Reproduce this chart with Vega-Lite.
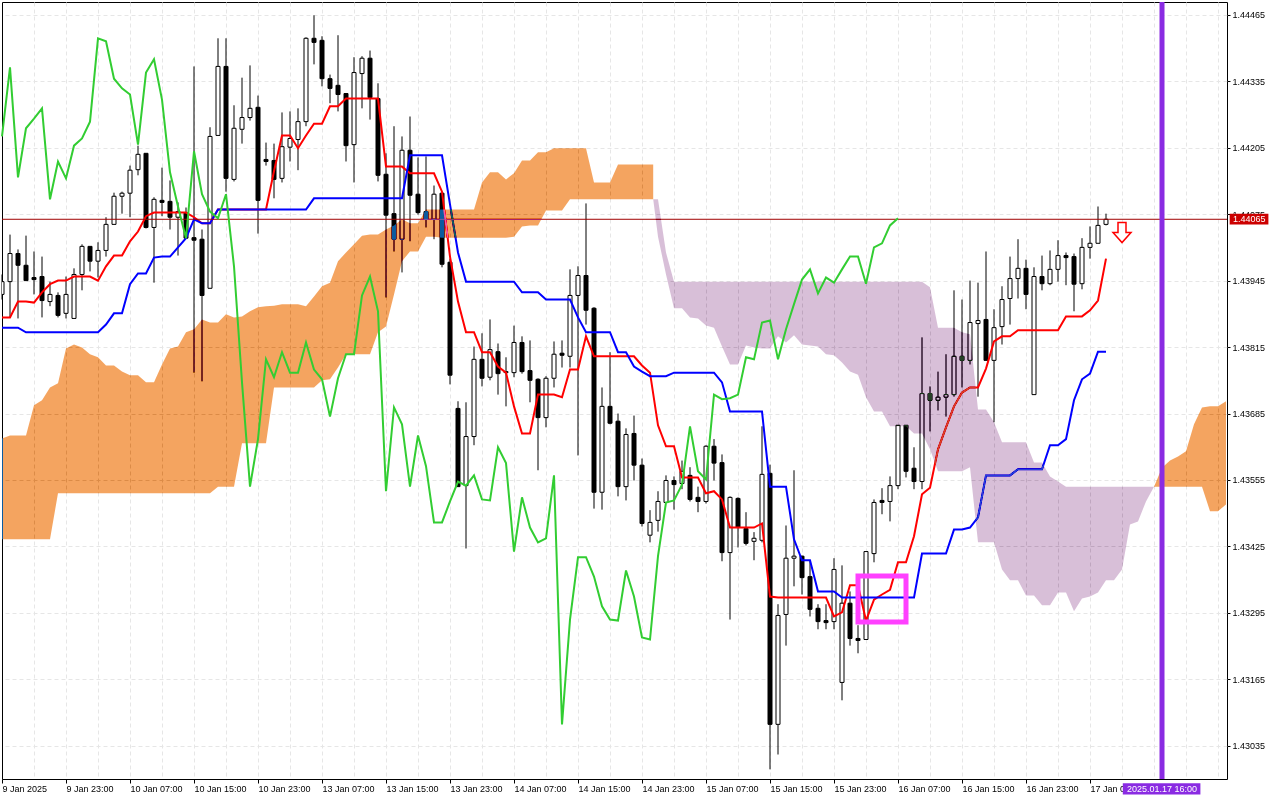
{
  "$schema": "https://vega.github.io/schema/vega-lite/v6.json",
  "width": 1225,
  "height": 777,
  "autosize": "none",
  "padding": {"left": 2, "top": 2, "right": 53, "bottom": 21},
  "background": "white",
  "config": {
    "view": {"stroke": "black", "strokeWidth": 1},
    "axis": {"labelFont": "Liberation Sans", "labelFontSize": 9, "labelColor": "black", "tickColor": "black", "domain": false, "title": null}
  },
  "datasets": {
    "bars": [
      {"i":0,"open":1.43918,"high":1.43957,"low":1.43908,"close":1.43943,"tenkan":1.43873,"kijun":1.43853,"chikou":1.44227},
      {"i":1,"open":1.43943,"high":1.44035,"low":1.43873,"close":1.43998,"tenkan":1.43873,"kijun":1.43853,"chikou":1.44362},
      {"i":2,"open":1.43998,"high":1.44006,"low":1.43871,"close":1.43975,"tenkan":1.43904,"kijun":1.43853,"chikou":1.44147},
      {"i":3,"open":1.43975,"high":1.44033,"low":1.43945,"close":1.43945,"tenkan":1.43904,"kijun":1.43844,"chikou":1.44243},
      {"i":4,"open":1.43951,"high":1.44002,"low":1.43918,"close":1.43947,"tenkan":1.43902,"kijun":1.43844,"chikou":1.44262},
      {"i":5,"open":1.43953,"high":1.43992,"low":1.43873,"close":1.43906,"tenkan":1.43922,"kijun":1.43844,"chikou":1.44282},
      {"i":6,"open":1.43904,"high":1.43943,"low":1.43895,"close":1.43918,"tenkan":1.43938,"kijun":1.43844,"chikou":1.44104},
      {"i":7,"open":1.43916,"high":1.43922,"low":1.43873,"close":1.43877,"tenkan":1.43945,"kijun":1.43844,"chikou":1.44178},
      {"i":8,"open":1.43881,"high":1.43953,"low":1.43871,"close":1.43918,"tenkan":1.43945,"kijun":1.43844,"chikou":1.44145},
      {"i":9,"open":1.43871,"high":1.43969,"low":1.43871,"close":1.43957,"tenkan":1.43953,"kijun":1.43844,"chikou":1.44209},
      {"i":10,"open":1.43957,"high":1.44016,"low":1.43926,"close":1.44012,"tenkan":1.43953,"kijun":1.43844,"chikou":1.44223},
      {"i":11,"open":1.44012,"high":1.44012,"low":1.43963,"close":1.43983,"tenkan":1.43953,"kijun":1.43844,"chikou":1.44256},
      {"i":12,"open":1.43983,"high":1.4402,"low":1.43951,"close":1.44004,"tenkan":1.43945,"kijun":1.43844,"chikou":1.44419},
      {"i":13,"open":1.44004,"high":1.44069,"low":1.43992,"close":1.44055,"tenkan":1.43973,"kijun":1.43859,"chikou":1.44413},
      {"i":14,"open":1.44055,"high":1.44117,"low":1.44055,"close":1.4411,"tenkan":1.43994,"kijun":1.43881,"chikou":1.4434},
      {"i":15,"open":1.4411,"high":1.44119,"low":1.44076,"close":1.44116,"tenkan":1.43994,"kijun":1.43881,"chikou":1.44321},
      {"i":16,"open":1.44116,"high":1.4417,"low":1.44069,"close":1.44161,"tenkan":1.44022,"kijun":1.43938,"chikou":1.44309},
      {"i":17,"open":1.44162,"high":1.44209,"low":1.44151,"close":1.44192,"tenkan":1.44041,"kijun":1.43959,"chikou":1.44211},
      {"i":18,"open":1.44194,"high":1.44194,"low":1.44047,"close":1.44049,"tenkan":1.44071,"kijun":1.43959,"chikou":1.44352},
      {"i":19,"open":1.44049,"high":1.44108,"low":1.43941,"close":1.44104,"tenkan":1.44078,"kijun":1.4399,"chikou":1.44378},
      {"i":20,"open":1.44102,"high":1.44166,"low":1.44071,"close":1.44098,"tenkan":1.44078,"kijun":1.43992,"chikou":1.44299},
      {"i":21,"open":1.441,"high":1.44141,"low":1.44045,"close":1.44069,"tenkan":1.44078,"kijun":1.43992,"chikou":1.44157},
      {"i":22,"open":1.44069,"high":1.44098,"low":1.43994,"close":1.4408,"tenkan":1.44078,"kijun":1.4401,"chikou":1.4409},
      {"i":23,"open":1.44078,"high":1.44088,"low":1.44028,"close":1.44028,"tenkan":1.44078,"kijun":1.44028,"chikou":1.44028},
      {"i":24,"open":1.44029,"high":1.44364,"low":1.43765,"close":1.44024,"tenkan":1.44069,"kijun":1.44065,"chikou":1.44198},
      {"i":25,"open":1.44026,"high":1.44045,"low":1.43748,"close":1.43916,"tenkan":1.44057,"kijun":1.44057,"chikou":1.44114},
      {"i":26,"open":1.4393,"high":1.44245,"low":1.4393,"close":1.44227,"tenkan":1.44057,"kijun":1.44057,"chikou":1.4408},
      {"i":27,"open":1.44229,"high":1.44419,"low":1.44229,"close":1.44364,"tenkan":1.44084,"kijun":1.44084,"chikou":1.44067},
      {"i":28,"open":1.44364,"high":1.44419,"low":1.44119,"close":1.44145,"tenkan":1.44084,"kijun":1.44084,"chikou":1.44114},
      {"i":29,"open":1.44143,"high":1.44288,"low":1.44139,"close":1.44243,"tenkan":1.44084,"kijun":1.44084,"chikou":1.43973},
      {"i":30,"open":1.44241,"high":1.44342,"low":1.44213,"close":1.44264,"tenkan":1.44084,"kijun":1.44084,"chikou":1.43746},
      {"i":31,"open":1.44264,"high":1.44366,"low":1.44258,"close":1.44282,"tenkan":1.44084,"kijun":1.44084,"chikou":1.43542},
      {"i":32,"open":1.44284,"high":1.44307,"low":1.44037,"close":1.44102,"tenkan":1.44084,"kijun":1.44084,"chikou":1.43635},
      {"i":33,"open":1.44182,"high":1.44215,"low":1.4417,"close":1.44178,"tenkan":1.44084,"kijun":1.44084,"chikou":1.43791},
      {"i":34,"open":1.4418,"high":1.44213,"low":1.44106,"close":1.44143,"tenkan":1.44159,"kijun":1.44084,"chikou":1.43756},
      {"i":35,"open":1.44145,"high":1.44274,"low":1.44137,"close":1.44207,"tenkan":1.44229,"kijun":1.44084,"chikou":1.43805},
      {"i":36,"open":1.44206,"high":1.44276,"low":1.44178,"close":1.44223,"tenkan":1.44229,"kijun":1.44084,"chikou":1.43765},
      {"i":37,"open":1.44221,"high":1.44282,"low":1.44161,"close":1.44256,"tenkan":1.44204,"kijun":1.44084,"chikou":1.43765},
      {"i":38,"open":1.44256,"high":1.44421,"low":1.44247,"close":1.44419,"tenkan":1.44229,"kijun":1.44084,"chikou":1.43824},
      {"i":39,"open":1.44419,"high":1.44464,"low":1.44368,"close":1.44411,"tenkan":1.44252,"kijun":1.44106,"chikou":1.43771},
      {"i":40,"open":1.44415,"high":1.44423,"low":1.44325,"close":1.4434,"tenkan":1.44252,"kijun":1.44106,"chikou":1.43752},
      {"i":41,"open":1.4434,"high":1.44348,"low":1.44292,"close":1.44321,"tenkan":1.44286,"kijun":1.44106,"chikou":1.43679},
      {"i":42,"open":1.44327,"high":1.44425,"low":1.44276,"close":1.44309,"tenkan":1.44286,"kijun":1.44106,"chikou":1.43754},
      {"i":43,"open":1.44311,"high":1.44311,"low":1.44178,"close":1.44209,"tenkan":1.44301,"kijun":1.44106,"chikou":1.43801},
      {"i":44,"open":1.44211,"high":1.44382,"low":1.44137,"close":1.44352,"tenkan":1.44301,"kijun":1.44106,"chikou":1.43801},
      {"i":45,"open":1.4435,"high":1.44384,"low":1.44282,"close":1.4438,"tenkan":1.44301,"kijun":1.44106,"chikou":1.43916},
      {"i":46,"open":1.4438,"high":1.44395,"low":1.4426,"close":1.44303,"tenkan":1.44301,"kijun":1.44106,"chikou":1.43953},
      {"i":47,"open":1.44301,"high":1.44331,"low":1.44139,"close":1.44151,"tenkan":1.44301,"kijun":1.44106,"chikou":1.43885},
      {"i":48,"open":1.44153,"high":1.44194,"low":1.43912,"close":1.44073,"tenkan":1.44168,"kijun":1.44106,"chikou":1.43533},
      {"i":49,"open":1.44076,"high":1.44247,"low":1.44002,"close":1.44026,"tenkan":1.44168,"kijun":1.44106,"chikou":1.43697},
      {"i":50,"open":1.44026,"high":1.44227,"low":1.43961,"close":1.442,"tenkan":1.44168,"kijun":1.44106,"chikou":1.43664},
      {"i":51,"open":1.442,"high":1.44266,"low":1.44022,"close":1.44112,"tenkan":1.44155,"kijun":1.4419,"chikou":1.43542},
      {"i":52,"open":1.44114,"high":1.44186,"low":1.44074,"close":1.44078,"tenkan":1.44155,"kijun":1.4419,"chikou":1.43642},
      {"i":53,"open":1.4408,"high":1.44188,"low":1.44049,"close":1.44065,"tenkan":1.44155,"kijun":1.4419,"chikou":1.43582},
      {"i":54,"open":1.44065,"high":1.44131,"low":1.44026,"close":1.44114,"tenkan":1.44155,"kijun":1.4419,"chikou":1.43472},
      {"i":55,"open":1.44116,"high":1.44116,"low":1.43971,"close":1.43977,"tenkan":1.44119,"kijun":1.4419,"chikou":1.43472},
      {"i":56,"open":1.43981,"high":1.43988,"low":1.43742,"close":1.4376,"tenkan":1.43992,"kijun":1.44094,"chikou":1.43513},
      {"i":57,"open":1.43695,"high":1.43709,"low":1.43542,"close":1.43542,"tenkan":1.43904,"kijun":1.44,"chikou":1.43552},
      {"i":58,"open":1.43544,"high":1.43707,"low":1.43421,"close":1.4364,"tenkan":1.43844,"kijun":1.43943,"chikou":1.43544},
      {"i":59,"open":1.4364,"high":1.43816,"low":1.43623,"close":1.43791,"tenkan":1.43844,"kijun":1.43943,"chikou":1.43564},
      {"i":60,"open":1.43791,"high":1.43842,"low":1.43738,"close":1.43754,"tenkan":1.43805,"kijun":1.43943,"chikou":1.43517},
      {"i":61,"open":1.43756,"high":1.43869,"low":1.4375,"close":1.4381,"tenkan":1.43805,"kijun":1.43943,"chikou":1.43515},
      {"i":62,"open":1.43806,"high":1.43822,"low":1.43722,"close":1.43763,"tenkan":1.43777,"kijun":1.43943,"chikou":1.43619},
      {"i":63,"open":1.43765,"high":1.43795,"low":1.43699,"close":1.43767,"tenkan":1.43765,"kijun":1.43943,"chikou":1.43588},
      {"i":64,"open":1.43765,"high":1.43857,"low":1.43756,"close":1.43824,"tenkan":1.43699,"kijun":1.43943,"chikou":1.43415},
      {"i":65,"open":1.43824,"high":1.43836,"low":1.43763,"close":1.43767,"tenkan":1.43646,"kijun":1.43922,"chikou":1.43521},
      {"i":66,"open":1.43769,"high":1.43828,"low":1.43707,"close":1.4375,"tenkan":1.43646,"kijun":1.43922,"chikou":1.43462},
      {"i":67,"open":1.43752,"high":1.43754,"low":1.43574,"close":1.43677,"tenkan":1.43722,"kijun":1.43922,"chikou":1.43433},
      {"i":68,"open":1.43677,"high":1.43758,"low":1.43658,"close":1.43754,"tenkan":1.43722,"kijun":1.43908,"chikou":1.43441},
      {"i":69,"open":1.43754,"high":1.43826,"low":1.43736,"close":1.43801,"tenkan":1.43722,"kijun":1.43908,"chikou":1.43564},
      {"i":70,"open":1.43803,"high":1.43828,"low":1.43775,"close":1.43799,"tenkan":1.43717,"kijun":1.43908,"chikou":1.43077},
      {"i":71,"open":1.43797,"high":1.43967,"low":1.43775,"close":1.43916,"tenkan":1.43771,"kijun":1.43908,"chikou":1.43282},
      {"i":72,"open":1.43916,"high":1.43973,"low":1.43603,"close":1.43955,"tenkan":1.43771,"kijun":1.43873,"chikou":1.43404},
      {"i":73,"open":1.43955,"high":1.44096,"low":1.43859,"close":1.43887,"tenkan":1.43836,"kijun":1.43844,"chikou":1.43404},
      {"i":74,"open":1.43891,"high":1.43893,"low":1.43499,"close":1.43531,"tenkan":1.43797,"kijun":1.43844,"chikou":1.43366},
      {"i":75,"open":1.43531,"high":1.43736,"low":1.43497,"close":1.43699,"tenkan":1.43797,"kijun":1.43844,"chikou":1.43308},
      {"i":76,"open":1.43699,"high":1.43805,"low":1.43664,"close":1.43666,"tenkan":1.43797,"kijun":1.43844,"chikou":1.43282},
      {"i":77,"open":1.4367,"high":1.43685,"low":1.43523,"close":1.43542,"tenkan":1.43797,"kijun":1.43805,"chikou":1.4328},
      {"i":78,"open":1.43542,"high":1.43656,"low":1.43515,"close":1.43644,"tenkan":1.43797,"kijun":1.43805,"chikou":1.43378},
      {"i":79,"open":1.43646,"high":1.43681,"low":1.43554,"close":1.43584,"tenkan":1.43797,"kijun":1.43777,"chikou":1.43327},
      {"i":80,"open":1.43584,"high":1.43597,"low":1.43464,"close":1.4347,"tenkan":1.43779,"kijun":1.43767,"chikou":1.43247},
      {"i":81,"open":1.43447,"high":1.43496,"low":1.43433,"close":1.43472,"tenkan":1.43765,"kijun":1.43758,"chikou":1.43243},
      {"i":82,"open":1.43476,"high":1.43533,"low":1.43454,"close":1.43513,"tenkan":1.43662,"kijun":1.43758,"chikou":1.43406},
      {"i":83,"open":1.43511,"high":1.43564,"low":1.43511,"close":1.43554,"tenkan":1.43621,"kijun":1.43758,"chikou":1.43511},
      {"i":84,"open":1.43554,"high":1.43562,"low":1.43497,"close":1.43546,"tenkan":1.43621,"kijun":1.43765,"chikou":1.43515},
      {"i":85,"open":1.43548,"high":1.43593,"low":1.43537,"close":1.43572,"tenkan":1.4356,"kijun":1.43765,"chikou":1.43546},
      {"i":86,"open":1.43564,"high":1.4358,"low":1.43513,"close":1.43517,"tenkan":1.4356,"kijun":1.43765,"chikou":1.4366},
      {"i":87,"open":1.43521,"high":1.43542,"low":1.43492,"close":1.43513,"tenkan":1.4356,"kijun":1.43765,"chikou":1.43572},
      {"i":88,"open":1.43513,"high":1.43623,"low":1.43509,"close":1.43621,"tenkan":1.43529,"kijun":1.43765,"chikou":1.43556},
      {"i":89,"open":1.43621,"high":1.43635,"low":1.43554,"close":1.43588,"tenkan":1.43533,"kijun":1.43765,"chikou":1.43722},
      {"i":90,"open":1.43589,"high":1.43605,"low":1.43396,"close":1.43413,"tenkan":1.43517,"kijun":1.43746,"chikou":1.43713},
      {"i":91,"open":1.43413,"high":1.43523,"low":1.43282,"close":1.43521,"tenkan":1.43462,"kijun":1.43689,"chikou":1.43715},
      {"i":92,"open":1.43519,"high":1.43521,"low":1.43423,"close":1.43462,"tenkan":1.43462,"kijun":1.43689,"chikou":1.43722},
      {"i":93,"open":1.4346,"high":1.43492,"low":1.43427,"close":1.43431,"tenkan":1.43462,"kijun":1.43689,"chikou":1.43795},
      {"i":94,"open":1.43435,"high":1.43453,"low":1.43398,"close":1.43441,"tenkan":1.43462,"kijun":1.43689,"chikou":1.43791},
      {"i":95,"open":1.43437,"high":1.4366,"low":1.43433,"close":1.43566,"tenkan":1.4347,"kijun":1.43689,"chikou":1.43863},
      {"i":96,"open":1.43568,"high":1.43585,"low":1.42989,"close":1.43077,"tenkan":1.43327,"kijun":1.43542,"chikou":1.43867},
      {"i":97,"open":1.43077,"high":1.43312,"low":1.43018,"close":1.4329,"tenkan":1.43325,"kijun":1.43542,"chikou":1.43791},
      {"i":98,"open":1.43292,"high":1.43466,"low":1.43231,"close":1.43402,"tenkan":1.43325,"kijun":1.43542,"chikou":1.4385},
      {"i":99,"open":1.43402,"high":1.43574,"low":1.43347,"close":1.43406,"tenkan":1.43325,"kijun":1.43439,"chikou":1.43899},
      {"i":100,"open":1.43406,"high":1.43407,"low":1.43331,"close":1.43364,"tenkan":1.43325,"kijun":1.43398,"chikou":1.43947},
      {"i":101,"open":1.43366,"high":1.43398,"low":1.43288,"close":1.43302,"tenkan":1.43325,"kijun":1.43398,"chikou":1.43967},
      {"i":102,"open":1.43304,"high":1.43312,"low":1.43263,"close":1.43278,"tenkan":1.43325,"kijun":1.43337,"chikou":1.4392},
      {"i":103,"open":1.4328,"high":1.43312,"low":1.43263,"close":1.43276,"tenkan":1.43325,"kijun":1.43337,"chikou":1.43951},
      {"i":104,"open":1.43278,"high":1.43402,"low":1.43263,"close":1.4338,"tenkan":1.43288,"kijun":1.43337,"chikou":1.43941},
      {"i":105,"open":1.43159,"high":1.43388,"low":1.43124,"close":1.43314,"tenkan":1.43296,"kijun":1.43325,"chikou":1.43967},
      {"i":106,"open":1.43314,"high":1.43337,"low":1.43231,"close":1.43245,"tenkan":1.43349,"kijun":1.43325,"chikou":1.43992},
      {"i":107,"open":1.43245,"high":1.43271,"low":1.43216,"close":1.43241,"tenkan":1.43349,"kijun":1.43325,"chikou":1.43992},
      {"i":108,"open":1.43243,"high":1.43415,"low":1.43243,"close":1.43415,"tenkan":1.4328,"kijun":1.43325,"chikou":1.43939},
      {"i":109,"open":1.43411,"high":1.43517,"low":1.43394,"close":1.43511,"tenkan":1.43321,"kijun":1.43325,"chikou":1.4401},
      {"i":110,"open":1.43515,"high":1.43539,"low":1.43488,"close":1.43511,"tenkan":1.43331,"kijun":1.43325,"chikou":1.44018},
      {"i":111,"open":1.43513,"high":1.43562,"low":1.43474,"close":1.43544,"tenkan":1.4334,"kijun":1.43325,"chikou":1.44053},
      {"i":112,"open":1.43544,"high":1.43662,"low":1.43537,"close":1.43662,"tenkan":1.43394,"kijun":1.43325,"chikou":1.44067},
      {"i":113,"open":1.43662,"high":1.43662,"low":1.4356,"close":1.43572,"tenkan":1.43394,"kijun":1.43325},
      {"i":114,"open":1.43578,"high":1.43619,"low":1.43537,"close":1.43552,"tenkan":1.43445,"kijun":1.43325},
      {"i":115,"open":1.43552,"high":1.43834,"low":1.43537,"close":1.43724,"tenkan":1.43527,"kijun":1.43411},
      {"i":116,"open":1.43724,"high":1.43738,"low":1.4365,"close":1.43711,"tenkan":1.4354,"kijun":1.43411},
      {"i":117,"open":1.43711,"high":1.43767,"low":1.43691,"close":1.43717,"tenkan":1.43615,"kijun":1.43411},
      {"i":118,"open":1.43717,"high":1.43801,"low":1.43679,"close":1.43722,"tenkan":1.43658,"kijun":1.43411},
      {"i":119,"open":1.43722,"high":1.43926,"low":1.43718,"close":1.43797,"tenkan":1.43699,"kijun":1.43458},
      {"i":120,"open":1.43797,"high":1.43908,"low":1.43736,"close":1.43789,"tenkan":1.43726,"kijun":1.43458},
      {"i":121,"open":1.43789,"high":1.43945,"low":1.43781,"close":1.43863,"tenkan":1.43736,"kijun":1.43462},
      {"i":122,"open":1.43861,"high":1.43941,"low":1.43718,"close":1.43867,"tenkan":1.43736,"kijun":1.43482},
      {"i":123,"open":1.43869,"high":1.44002,"low":1.43789,"close":1.43789,"tenkan":1.43773,"kijun":1.43564},
      {"i":124,"open":1.43789,"high":1.43889,"low":1.43668,"close":1.43853,"tenkan":1.43826,"kijun":1.43564},
      {"i":125,"open":1.43855,"high":1.43934,"low":1.4382,"close":1.43908,"tenkan":1.43836,"kijun":1.43564},
      {"i":126,"open":1.4391,"high":1.43992,"low":1.43859,"close":1.43949,"tenkan":1.43836,"kijun":1.43564},
      {"i":127,"open":1.43949,"high":1.44026,"low":1.4391,"close":1.43969,"tenkan":1.43848,"kijun":1.43576},
      {"i":128,"open":1.43969,"high":1.43986,"low":1.43889,"close":1.43918,"tenkan":1.43848,"kijun":1.43576},
      {"i":129,"open":1.43722,"high":1.43971,"low":1.43722,"close":1.43953,"tenkan":1.43848,"kijun":1.43576},
      {"i":130,"open":1.43953,"high":1.43994,"low":1.43926,"close":1.43939,"tenkan":1.43848,"kijun":1.43576},
      {"i":131,"open":1.43939,"high":1.44004,"low":1.43936,"close":1.43967,"tenkan":1.43848,"kijun":1.43623},
      {"i":132,"open":1.43967,"high":1.44024,"low":1.43943,"close":1.43994,"tenkan":1.43848,"kijun":1.43623},
      {"i":133,"open":1.43994,"high":1.44,"low":1.43936,"close":1.4399,"tenkan":1.43875,"kijun":1.43635},
      {"i":134,"open":1.43992,"high":1.43998,"low":1.43885,"close":1.43938,"tenkan":1.43875,"kijun":1.43711},
      {"i":135,"open":1.43939,"high":1.44028,"low":1.43928,"close":1.4401,"tenkan":1.43875,"kijun":1.43752},
      {"i":136,"open":1.4401,"high":1.44051,"low":1.43988,"close":1.44018,"tenkan":1.43887,"kijun":1.43763},
      {"i":137,"open":1.44018,"high":1.4409,"low":1.44018,"close":1.44053,"tenkan":1.43906,"kijun":1.43806},
      {"i":138,"open":1.44055,"high":1.44076,"low":1.44053,"close":1.44065,"tenkan":1.43988,"kijun":1.43806}
    ],
    "cloud": [
      {"i":0,"upper":1.43636,"lower":1.43439,"kind":"falling","part":1},
      {"i":1,"upper":1.43642,"lower":1.43439,"kind":"falling","part":1},
      {"i":2,"upper":1.43642,"lower":1.43439,"kind":"falling","part":1},
      {"i":3,"upper":1.43642,"lower":1.43439,"kind":"falling","part":1},
      {"i":4,"upper":1.43701,"lower":1.43439,"kind":"falling","part":1},
      {"i":5,"upper":1.43711,"lower":1.43439,"kind":"falling","part":1},
      {"i":6,"upper":1.43736,"lower":1.43439,"kind":"falling","part":1},
      {"i":7,"upper":1.43744,"lower":1.43529,"kind":"falling","part":1},
      {"i":8,"upper":1.43812,"lower":1.43529,"kind":"falling","part":1},
      {"i":9,"upper":1.4382,"lower":1.43529,"kind":"falling","part":1},
      {"i":10,"upper":1.43814,"lower":1.43529,"kind":"falling","part":1},
      {"i":11,"upper":1.43801,"lower":1.43529,"kind":"falling","part":1},
      {"i":12,"upper":1.43795,"lower":1.43529,"kind":"falling","part":1},
      {"i":13,"upper":1.43779,"lower":1.43529,"kind":"falling","part":1},
      {"i":14,"upper":1.43779,"lower":1.43529,"kind":"falling","part":1},
      {"i":15,"upper":1.43767,"lower":1.43529,"kind":"falling","part":1},
      {"i":16,"upper":1.4376,"lower":1.43529,"kind":"falling","part":1},
      {"i":17,"upper":1.4376,"lower":1.43529,"kind":"falling","part":1},
      {"i":18,"upper":1.43746,"lower":1.43529,"kind":"falling","part":1},
      {"i":19,"upper":1.43746,"lower":1.43529,"kind":"falling","part":1},
      {"i":20,"upper":1.43781,"lower":1.43529,"kind":"falling","part":1},
      {"i":21,"upper":1.43812,"lower":1.43529,"kind":"falling","part":1},
      {"i":22,"upper":1.43816,"lower":1.43529,"kind":"falling","part":1},
      {"i":23,"upper":1.43844,"lower":1.43529,"kind":"falling","part":1},
      {"i":24,"upper":1.4385,"lower":1.43529,"kind":"falling","part":1},
      {"i":25,"upper":1.43869,"lower":1.43529,"kind":"falling","part":1},
      {"i":26,"upper":1.43863,"lower":1.43529,"kind":"falling","part":1},
      {"i":27,"upper":1.43863,"lower":1.43542,"kind":"falling","part":1},
      {"i":28,"upper":1.43879,"lower":1.43542,"kind":"falling","part":1},
      {"i":29,"upper":1.43873,"lower":1.43542,"kind":"falling","part":1},
      {"i":30,"upper":1.43875,"lower":1.43627,"kind":"falling","part":1},
      {"i":31,"upper":1.43885,"lower":1.43627,"kind":"falling","part":1},
      {"i":32,"upper":1.43893,"lower":1.43627,"kind":"falling","part":1},
      {"i":33,"upper":1.43895,"lower":1.43627,"kind":"falling","part":1},
      {"i":34,"upper":1.43896,"lower":1.43736,"kind":"falling","part":1},
      {"i":35,"upper":1.43899,"lower":1.43736,"kind":"falling","part":1},
      {"i":36,"upper":1.43899,"lower":1.43736,"kind":"falling","part":1},
      {"i":37,"upper":1.43899,"lower":1.43736,"kind":"falling","part":1},
      {"i":38,"upper":1.43895,"lower":1.43736,"kind":"falling","part":1},
      {"i":39,"upper":1.43914,"lower":1.43736,"kind":"falling","part":1},
      {"i":40,"upper":1.43934,"lower":1.4375,"kind":"falling","part":1},
      {"i":41,"upper":1.43941,"lower":1.43752,"kind":"falling","part":1},
      {"i":42,"upper":1.43983,"lower":1.43775,"kind":"falling","part":1},
      {"i":43,"upper":1.44,"lower":1.43801,"kind":"falling","part":1},
      {"i":44,"upper":1.44016,"lower":1.43801,"kind":"falling","part":1},
      {"i":45,"upper":1.44033,"lower":1.43801,"kind":"falling","part":1},
      {"i":46,"upper":1.44035,"lower":1.43801,"kind":"falling","part":1},
      {"i":47,"upper":1.44035,"lower":1.43844,"kind":"falling","part":1},
      {"i":48,"upper":1.44045,"lower":1.43855,"kind":"falling","part":1},
      {"i":49,"upper":1.44053,"lower":1.43918,"kind":"falling","part":1},
      {"i":50,"upper":1.44065,"lower":1.43983,"kind":"falling","part":1},
      {"i":51,"upper":1.44057,"lower":1.44002,"kind":"falling","part":1},
      {"i":52,"upper":1.44057,"lower":1.44002,"kind":"falling","part":1},
      {"i":53,"upper":1.44084,"lower":1.44031,"kind":"falling","part":1},
      {"i":54,"upper":1.44084,"lower":1.44031,"kind":"falling","part":1},
      {"i":55,"upper":1.44084,"lower":1.44029,"kind":"falling","part":1},
      {"i":56,"upper":1.44084,"lower":1.44029,"kind":"falling","part":1},
      {"i":57,"upper":1.44084,"lower":1.44029,"kind":"falling","part":1},
      {"i":58,"upper":1.44084,"lower":1.44029,"kind":"falling","part":1},
      {"i":59,"upper":1.44084,"lower":1.44029,"kind":"falling","part":1},
      {"i":60,"upper":1.44137,"lower":1.44029,"kind":"falling","part":1},
      {"i":61,"upper":1.44157,"lower":1.44029,"kind":"falling","part":1},
      {"i":62,"upper":1.44157,"lower":1.44029,"kind":"falling","part":1},
      {"i":63,"upper":1.44143,"lower":1.44029,"kind":"falling","part":1},
      {"i":64,"upper":1.44155,"lower":1.44031,"kind":"falling","part":1},
      {"i":65,"upper":1.4418,"lower":1.44051,"kind":"falling","part":1},
      {"i":66,"upper":1.4418,"lower":1.44053,"kind":"falling","part":1},
      {"i":67,"upper":1.44196,"lower":1.44053,"kind":"falling","part":1},
      {"i":68,"upper":1.44196,"lower":1.44082,"kind":"falling","part":1},
      {"i":69,"upper":1.44204,"lower":1.44082,"kind":"falling","part":1},
      {"i":70,"upper":1.44204,"lower":1.44082,"kind":"falling","part":1},
      {"i":71,"upper":1.44204,"lower":1.44104,"kind":"falling","part":1},
      {"i":72,"upper":1.44204,"lower":1.44104,"kind":"falling","part":1},
      {"i":73,"upper":1.44204,"lower":1.44104,"kind":"falling","part":1},
      {"i":74,"upper":1.44137,"lower":1.44104,"kind":"falling","part":1},
      {"i":75,"upper":1.44137,"lower":1.44104,"kind":"falling","part":1},
      {"i":76,"upper":1.44137,"lower":1.44104,"kind":"falling","part":1},
      {"i":77,"upper":1.44172,"lower":1.44104,"kind":"falling","part":1},
      {"i":78,"upper":1.44172,"lower":1.44104,"kind":"falling","part":1},
      {"i":79,"upper":1.44172,"lower":1.44104,"kind":"falling","part":1},
      {"i":80,"upper":1.44172,"lower":1.44104,"kind":"falling","part":1},
      {"i":81,"upper":1.44172,"lower":1.44104,"kind":"falling","part":1},
      {"i":81.4,"upper":1.44172,"lower":1.44104,"kind":"falling","part":1},
      {"i":81.4,"upper":1.44104,"lower":1.44104,"kind":"rising","part":2},
      {"i":82,"upper":1.44104,"lower":1.44031,"kind":"rising","part":2},
      {"i":83,"upper":1.44,"lower":1.43957,"kind":"rising","part":2},
      {"i":84,"upper":1.43943,"lower":1.43891,"kind":"rising","part":2},
      {"i":85,"upper":1.43943,"lower":1.43891,"kind":"rising","part":2},
      {"i":86,"upper":1.43943,"lower":1.43873,"kind":"rising","part":2},
      {"i":87,"upper":1.43943,"lower":1.43871,"kind":"rising","part":2},
      {"i":88,"upper":1.43943,"lower":1.43857,"kind":"rising","part":2},
      {"i":89,"upper":1.43943,"lower":1.43853,"kind":"rising","part":2},
      {"i":90,"upper":1.43943,"lower":1.43816,"kind":"rising","part":2},
      {"i":91,"upper":1.43943,"lower":1.43781,"kind":"rising","part":2},
      {"i":92,"upper":1.43943,"lower":1.43781,"kind":"rising","part":2},
      {"i":93,"upper":1.43943,"lower":1.43818,"kind":"rising","part":2},
      {"i":94,"upper":1.43943,"lower":1.43814,"kind":"rising","part":2},
      {"i":95,"upper":1.43943,"lower":1.43812,"kind":"rising","part":2},
      {"i":96,"upper":1.43943,"lower":1.43812,"kind":"rising","part":2},
      {"i":97,"upper":1.43943,"lower":1.43836,"kind":"rising","part":2},
      {"i":98,"upper":1.43943,"lower":1.43824,"kind":"rising","part":2},
      {"i":99,"upper":1.43943,"lower":1.43838,"kind":"rising","part":2},
      {"i":100,"upper":1.43943,"lower":1.4382,"kind":"rising","part":2},
      {"i":101,"upper":1.43943,"lower":1.43818,"kind":"rising","part":2},
      {"i":102,"upper":1.43943,"lower":1.43816,"kind":"rising","part":2},
      {"i":103,"upper":1.43943,"lower":1.43801,"kind":"rising","part":2},
      {"i":104,"upper":1.43943,"lower":1.43799,"kind":"rising","part":2},
      {"i":105,"upper":1.43943,"lower":1.43785,"kind":"rising","part":2},
      {"i":106,"upper":1.43943,"lower":1.43767,"kind":"rising","part":2},
      {"i":107,"upper":1.43943,"lower":1.43761,"kind":"rising","part":2},
      {"i":108,"upper":1.43943,"lower":1.43717,"kind":"rising","part":2},
      {"i":109,"upper":1.43943,"lower":1.43689,"kind":"rising","part":2},
      {"i":110,"upper":1.43943,"lower":1.43689,"kind":"rising","part":2},
      {"i":111,"upper":1.43943,"lower":1.4366,"kind":"rising","part":2},
      {"i":112,"upper":1.43943,"lower":1.4366,"kind":"rising","part":2},
      {"i":113,"upper":1.43943,"lower":1.4366,"kind":"rising","part":2},
      {"i":114,"upper":1.43943,"lower":1.43646,"kind":"rising","part":2},
      {"i":115,"upper":1.43943,"lower":1.43646,"kind":"rising","part":2},
      {"i":116,"upper":1.43932,"lower":1.43615,"kind":"rising","part":2},
      {"i":117,"upper":1.43853,"lower":1.43572,"kind":"rising","part":2},
      {"i":118,"upper":1.43853,"lower":1.43572,"kind":"rising","part":2},
      {"i":119,"upper":1.43853,"lower":1.43572,"kind":"rising","part":2},
      {"i":120,"upper":1.43844,"lower":1.43572,"kind":"rising","part":2},
      {"i":121,"upper":1.4384,"lower":1.4358,"kind":"rising","part":2},
      {"i":122,"upper":1.43693,"lower":1.43433,"kind":"rising","part":2},
      {"i":123,"upper":1.43693,"lower":1.43433,"kind":"rising","part":2},
      {"i":124,"upper":1.43668,"lower":1.43433,"kind":"rising","part":2},
      {"i":125,"upper":1.43629,"lower":1.4338,"kind":"rising","part":2},
      {"i":126,"upper":1.43629,"lower":1.43359,"kind":"rising","part":2},
      {"i":127,"upper":1.43629,"lower":1.43359,"kind":"rising","part":2},
      {"i":128,"upper":1.43629,"lower":1.43329,"kind":"rising","part":2},
      {"i":129,"upper":1.43589,"lower":1.43329,"kind":"rising","part":2},
      {"i":130,"upper":1.43589,"lower":1.4331,"kind":"rising","part":2},
      {"i":131,"upper":1.43562,"lower":1.4331,"kind":"rising","part":2},
      {"i":132,"upper":1.43552,"lower":1.43335,"kind":"rising","part":2},
      {"i":133,"upper":1.43542,"lower":1.43335,"kind":"rising","part":2},
      {"i":134,"upper":1.43542,"lower":1.43298,"kind":"rising","part":2},
      {"i":135,"upper":1.43542,"lower":1.43323,"kind":"rising","part":2},
      {"i":136,"upper":1.43542,"lower":1.43327,"kind":"rising","part":2},
      {"i":137,"upper":1.43542,"lower":1.43335,"kind":"rising","part":2},
      {"i":138,"upper":1.43542,"lower":1.43359,"kind":"rising","part":2},
      {"i":139,"upper":1.43542,"lower":1.43359,"kind":"rising","part":2},
      {"i":140,"upper":1.43542,"lower":1.4338,"kind":"rising","part":2},
      {"i":141,"upper":1.43542,"lower":1.43468,"kind":"rising","part":2},
      {"i":142,"upper":1.43542,"lower":1.43474,"kind":"rising","part":2},
      {"i":143,"upper":1.43542,"lower":1.43513,"kind":"rising","part":2},
      {"i":144,"upper":1.43542,"lower":1.43542,"kind":"rising","part":2},
      {"i":144,"upper":1.43542,"lower":1.43542,"kind":"falling","part":3},
      {"i":145,"upper":1.43579,"lower":1.43542,"kind":"falling","part":3},
      {"i":146,"upper":1.43593,"lower":1.43542,"kind":"falling","part":3},
      {"i":147,"upper":1.43601,"lower":1.43542,"kind":"falling","part":3},
      {"i":148,"upper":1.43611,"lower":1.43542,"kind":"falling","part":3},
      {"i":149,"upper":1.43664,"lower":1.43542,"kind":"falling","part":3},
      {"i":150,"upper":1.43697,"lower":1.43542,"kind":"falling","part":3},
      {"i":151,"upper":1.43699,"lower":1.43494,"kind":"falling","part":3},
      {"i":152,"upper":1.43699,"lower":1.43494,"kind":"falling","part":3},
      {"i":153,"upper":1.43709,"lower":1.43507,"kind":"falling","part":3}
    ]
  },
  "data": {"name": "bars"},
  "encoding": {
    "x": {
      "field": "i",
      "type": "quantitative",
      "scale": {"domain": [0, 153.125], "nice": false, "zero": false, "padding": 0},
      "axis": {
        "values": [0,4,8,12,16,20,24,28,32,36,40,44,48,52,56,60,64,68,72,76,80,84,88,92,96,100,104,108,112,116,120,124,128,132,136,140,144,148,152],
        "labelExpr": "datum.value % 8 ? '' : ['9 Jan 2025','9 Jan 23:00','10 Jan 07:00','10 Jan 15:00','10 Jan 23:00','13 Jan 07:00','13 Jan 15:00','13 Jan 23:00','14 Jan 07:00','14 Jan 15:00','14 Jan 23:00','15 Jan 07:00','15 Jan 15:00','15 Jan 23:00','16 Jan 07:00','16 Jan 15:00','16 Jan 23:00','17 Jan 07:00','',''][datum.value / 8]",
        "labelAlign": "left",
        "labelBaseline": "top",
        "labelOverlap": false,
        "labelBound": false,
        "labelFlush": false,
        "labelPadding": 1,
        "tickSize": 4,
        "tickOpacity": {"condition": {"test": "datum.value % 8 == 0 && datum.value < 140", "value": 1}, "value": 0},
        "grid": true,
        "gridColor": "#E6E6E6",
        "gridDash": [4, 3],
        "gridOpacity": {"condition": {"test": "datum.value == 0", "value": 0}, "value": 1}
      }
    }
  },
  "layer": [
    {
      "mark": {"type": "rule", "color": "black", "strokeWidth": 1},
      "encoding": {
        "y": {
          "field": "high",
          "type": "quantitative",
          "scale": {"domain": [1.429701, 1.4449], "nice": false, "zero": false},
          "axis": {
            "orient": "right",
            "values": [1.43035,1.431,1.43165,1.4323,1.43295,1.4336,1.43425,1.4349,1.43555,1.4362,1.43685,1.4375,1.43815,1.4388,1.43945,1.4401,1.44075,1.4414,1.44205,1.4427,1.44335,1.444,1.44465],
            "format": ".5f",
            "tickSize": 3,
            "labelPadding": 2,
            "labelOverlap": false,
            "labelBound": false,
            "grid": true,
            "gridColor": "#E6E6E6",
            "gridDash": [4, 3]
          }
        },
        "y2": {"field": "low"}
      }
    },
    {
      "mark": {"type": "bar", "size": 4, "orient": "vertical", "stroke": "black", "strokeWidth": 1, "clip": true},
      "encoding": {
        "y": {"field": "open", "type": "quantitative", "scale": {"domain": [1.429701, 1.4449], "nice": false, "zero": false}},
        "y2": {"field": "close"},
        "fill": {"condition": {"test": "datum.close >= datum.open", "value": "white"}, "value": "black"}
      }
    },
    {
      "mark": {"type": "line", "color": "#FF0000", "strokeWidth": 2},
      "encoding": {"y": {"field": "tenkan", "type": "quantitative", "scale": {"domain": [1.429701, 1.4449], "nice": false, "zero": false}}}
    },
    {
      "mark": {"type": "line", "color": "#0000FF", "strokeWidth": 2},
      "encoding": {"y": {"field": "kijun", "type": "quantitative", "scale": {"domain": [1.429701, 1.4449], "nice": false, "zero": false}}}
    },
    {
      "data": {"values": [{"price": 1.44065}]},
      "mark": {"type": "rule", "color": "#A00000", "strokeWidth": 1},
      "encoding": {
        "x": null,
        "y": {"field": "price", "type": "quantitative", "scale": {"domain": [1.429701, 1.4449], "nice": false, "zero": false}}
      }
    },
    {
      "data": {"name": "cloud"},
      "mark": {"type": "area", "blend": "difference", "opacity": 1},
      "encoding": {
        "y": {"field": "upper", "type": "quantitative", "scale": {"domain": [1.429701, 1.4449], "nice": false, "zero": false}},
        "y2": {"field": "lower"},
        "detail": {"field": "part", "type": "nominal"},
        "color": {"field": "kind", "type": "nominal", "scale": {"domain": ["falling", "rising"], "range": ["#0B5B9F", "#274027"]}, "legend": null}
      }
    },
    {
      "mark": {"type": "line", "color": "#32CD32", "strokeWidth": 2},
      "encoding": {"y": {"field": "chikou", "type": "quantitative", "scale": {"domain": [1.429701, 1.4449], "nice": false, "zero": false}}}
    },
    {
      "data": {"values": [{"i": 145}]},
      "mark": {"type": "rule", "color": "#8A2BE2", "strokeWidth": 5},
      "encoding": {}
    },
    {
      "data": {"values": [{"from": 107, "to": 113, "hi": 1.43367, "lo": 1.43277}]},
      "mark": {"type": "rect", "fill": null, "stroke": "#FF40FF", "strokeWidth": 5},
      "encoding": {
        "x": {"field": "from", "type": "quantitative", "scale": {"domain": [0, 153.125], "nice": false, "zero": false, "padding": 0}},
        "x2": {"field": "to"},
        "y": {"field": "hi", "type": "quantitative", "scale": {"domain": [1.429701, 1.4449], "nice": false, "zero": false}},
        "y2": {"field": "lo"}
      }
    },
    {
      "data": {"values": [{"i": 140, "price": 1.44039}]},
      "mark": {"type": "point", "shape": "M-0.4,-1 L0.4,-1 L0.4,0 L0.9,0 L0,1 L-0.9,0 L-0.4,0 Z", "size": 400, "filled": true, "fill": "white", "stroke": "#FF0000", "strokeWidth": 1.5, "opacity": 1},
      "encoding": {
        "y": {"field": "price", "type": "quantitative", "scale": {"domain": [1.429701, 1.4449], "nice": false, "zero": false}}
      }
    },
    {
      "data": {"values": [{"from": 140.1, "to": 149.8, "hi": 1.42962, "lo": 1.4294}]},
      "mark": {"type": "rect", "fill": "#8A2BE2"},
      "encoding": {
        "x": {"field": "from", "type": "quantitative", "scale": {"domain": [0, 153.125], "nice": false, "zero": false, "padding": 0}},
        "x2": {"field": "to"},
        "y": {"field": "hi", "type": "quantitative", "scale": {"domain": [1.429701, 1.4449], "nice": false, "zero": false}},
        "y2": {"field": "lo"}
      }
    },
    {
      "data": {"values": [{"i": 145, "price": 1.42951, "label": "2025.01.17 16:00"}]},
      "mark": {"type": "text", "color": "white", "font": "Liberation Sans", "fontSize": 9, "align": "center", "baseline": "middle"},
      "encoding": {
        "y": {"field": "price", "type": "quantitative", "scale": {"domain": [1.429701, 1.4449], "nice": false, "zero": false}},
        "text": {"field": "label"}
      }
    },
    {
      "data": {"values": [{"from": 153.46, "to": 158.3, "hi": 1.44076, "lo": 1.44055}]},
      "mark": {"type": "rect", "fill": "#CC0000"},
      "encoding": {
        "x": {"field": "from", "type": "quantitative", "scale": {"domain": [0, 153.125], "nice": false, "zero": false, "padding": 0}},
        "x2": {"field": "to"},
        "y": {"field": "hi", "type": "quantitative", "scale": {"domain": [1.429701, 1.4449], "nice": false, "zero": false}},
        "y2": {"field": "lo"}
      }
    },
    {
      "data": {"values": [{"i": 155.9, "price": 1.44065, "label": "1.44065"}]},
      "mark": {"type": "text", "color": "white", "font": "Liberation Sans", "fontSize": 9, "align": "center", "baseline": "middle"},
      "encoding": {
        "y": {"field": "price", "type": "quantitative", "scale": {"domain": [1.429701, 1.4449], "nice": false, "zero": false}},
        "text": {"field": "label"}
      }
    }
  ]
}
